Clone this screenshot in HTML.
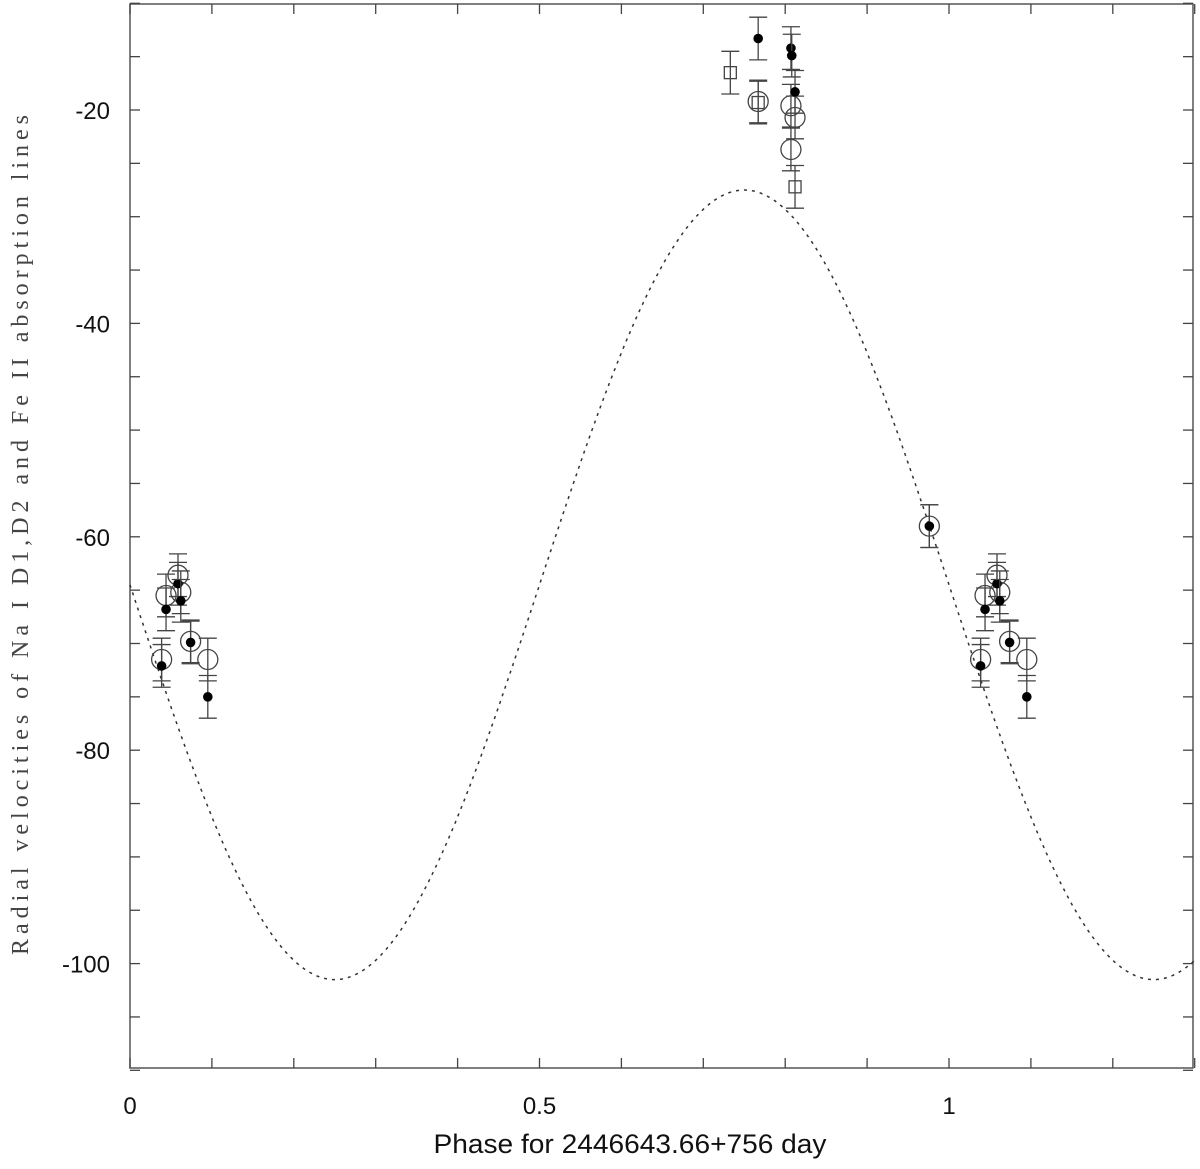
<!DOCTYPE html>
<html><head><meta charset="utf-8"><style>
html,body{margin:0;padding:0;background:#fff;}
svg{display:block;}
</style></head><body>
<svg id="chart" width="1200" height="1169" xmlns="http://www.w3.org/2000/svg">
<rect x="130" y="4" width="1063" height="1064" fill="none" stroke="#555" stroke-width="1.5"/>
<g id="ticks"></g>
<path id="curve" fill="none" stroke="#333" stroke-width="1.5" stroke-dasharray="3,5"/>
<g id="points"></g>
<text x="630" y="1153" font-family="Liberation Sans, sans-serif" font-size="27" textLength="393" lengthAdjust="spacingAndGlyphs" text-anchor="middle" fill="#111">Phase for 2446643.66+756 day</text>
<text transform="translate(28,535) rotate(-90)" font-family="Liberation Serif, serif" font-size="24" textLength="840" lengthAdjust="spacing" text-anchor="middle" fill="#444">Radial velocities of Na I D1,D2 and Fe II absorption lines</text>
</svg>
<script>
const xTicks=[0,0.5,1];
const xTickLabels=["0","0.5","1"];
const yTicks=[-20,-40,-60,-80,-100];
const yTickLabels=["-20","-40","-60","-80","-100"];
const gammaV=-64.5, K=37;
// filled circles
const filledPhase=[0.0386,0.044,0.0586,0.062,0.074,0.095,0.976,0.767,0.807,0.808,0.812];
const filledVel=[-72.1,-66.8,-64.4,-66.0,-69.9,-75.0,-59.0,-13.3,-14.2,-14.9,-18.3];
// open circles
const openPhase=[0.0386,0.044,0.0586,0.062,0.074,0.095,0.976,0.767,0.807,0.812,0.807];
const openVel=[-71.5,-65.5,-63.6,-65.2,-69.8,-71.5,-59.0,-19.2,-19.6,-20.7,-23.7];
// squares
const sqPhase=[0.733,0.767,0.812];
const sqVel=[-16.5,-19.3,-27.2];
const errV=2;
const NS='http://www.w3.org/2000/svg';
const X=p=>130+p*819;
const Y=v=>110-(v+20)*10.67;
const svg=document.getElementById('chart');
const tg=document.getElementById('ticks');
const pg=document.getElementById('points');
function mk(tag,attrs,parent){const e=document.createElementNS(NS,tag);for(const k in attrs)e.setAttribute(k,attrs[k]);parent.appendChild(e);return e;}
for(let i=0;i<=13;i++){const x=X(i/10);
 const t=mk('line',{x1:x,x2:x,y1:1068,y2:1058,stroke:'#444','stroke-width':1.3},tg);
 
 
 const t2=mk('line',{x1:x,x2:x,y1:4,y2:14,stroke:'#444','stroke-width':1.3},tg);
 
 }
for(let v=-110;v<=-10;v+=5){const y=Y(v);
 const t=mk('line',{x1:130,x2:140,y1:y,y2:y,stroke:'#444','stroke-width':1.3},tg);
 
 
 const t2=mk('line',{x1:1183,x2:1193,y1:y,y2:y,stroke:'#444','stroke-width':1.3},tg);
 
 }
xTicks.forEach((p,i)=>{const t=mk('text',{x:X(p),y:1114,'font-family':'Liberation Sans, sans-serif','font-size':24,'text-anchor':'middle',fill:'#111'},svg);t.textContent=xTickLabels[i];
 
 });
yTicks.forEach((v,i)=>{const t=mk('text',{x:110,y:Y(v)+9,'font-family':'Liberation Sans, sans-serif','font-size':24,'text-anchor':'end',fill:'#111'},svg);t.textContent=yTickLabels[i];
 
 });
let d='';for(let i=0;i<=520;i++){const p=i*1.3/520;const v=gammaV-K*Math.sin(2*Math.PI*p);d+=(i?'L':'M')+X(p).toFixed(1)+','+Y(v).toFixed(1);}
document.getElementById('curve').setAttribute('d',d);
function err(p,v){const x=X(p),y1=Y(v+errV),y2=Y(v-errV);
 const g=mk('g',{stroke:'#444','stroke-width':1.3},pg);
 
 
 mk('line',{x1:x,x2:x,y1:y1,y2:y2},g);mk('line',{x1:x-9,x2:x+9,y1:y1,y2:y1},g);mk('line',{x1:x-9,x2:x+9,y1:y2,y2:y2},g);}
[0,1].forEach(off=>{
 openPhase.forEach((p,i)=>{const ph=p+off;if(ph>1.3)return;err(ph,openVel[i]);
  const c=mk('circle',{cx:X(ph),cy:Y(openVel[i]),r:10,fill:'none',stroke:'#444','stroke-width':1.3},pg);
  
  });
 sqPhase.forEach((p,i)=>{const ph=p+off;if(ph>1.3)return;err(ph,sqVel[i]);
  const s=mk('rect',{x:X(ph)-6,y:Y(sqVel[i])-6,width:12,height:12,fill:'none',stroke:'#444','stroke-width':1.3},pg);
  
  });
 filledPhase.forEach((p,i)=>{const ph=p+off;if(ph>1.3)return;err(ph,filledVel[i]);
  const c=mk('circle',{cx:X(ph),cy:Y(filledVel[i]),r:4.8,fill:'#000'},pg);
  
  });
});
</script>
</body></html>
